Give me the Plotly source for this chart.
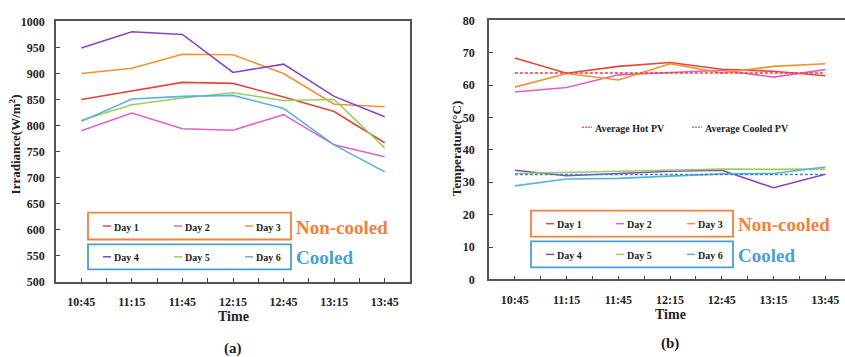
import plotly.graph_objects as go

W, H = 845, 357
times = ["10:45", "11:15", "11:45", "12:15", "12:45", "13:15", "13:45"]
day_names = ["Day 1", "Day 2", "Day 3", "Day 4", "Day 5", "Day 6"]

irr_day1 = [850, 866, 883, 881, 855, 827, 767]
irr_day2 = [790, 824, 794, 791, 821, 763, 740]
irr_day3 = [900, 910, 937, 936, 900, 841, 836]
irr_day4 = [949, 980, 975, 902, 918, 856, 817]
irr_day5 = [810, 840, 853, 863, 848, 850, 757]
irr_day6 = [808, 851, 856, 858, 833, 763, 711]

tmp_day1 = [68.4, 63.7, 65.8, 67.0, 64.9, 64.3, 62.9]
tmp_day2 = [57.9, 59.3, 63.2, 63.9, 64.6, 62.5, 64.8]
tmp_day3 = [59.4, 63.6, 61.6, 66.6, 63.8, 65.8, 66.6]
tmp_day4 = [33.7, 32.0, 32.7, 33.4, 33.7, 28.3, 32.5]
tmp_day5 = [32.7, 33.0, 33.5, 33.7, 34.1, 34.0, 34.1]
tmp_day6 = [28.9, 31.0, 31.2, 31.9, 32.6, 32.7, 34.7]
avg_hot = [63.8] * 7
avg_cooled = [32.4] * 7

colors = ["#e0463c", "#e062c6", "#f5902f", "#8a45c2", "#98d05a", "#56b2e0"]
ORANGE = "#f4803a"
BLUE = "#4aa0d6"
FONT = "Liberation Serif, Times New Roman, serif"

xs = list(range(len(times)))

def px(x):
    return x / W

def py(y):
    return 1 - y / H

fig = go.Figure()
irr = [irr_day1, irr_day2, irr_day3, irr_day4, irr_day5, irr_day6]
tmp = [tmp_day1, tmp_day2, tmp_day3, tmp_day4, tmp_day5, tmp_day6]
for i, (name, vals) in enumerate(zip(day_names, irr)):
    fig.add_trace(go.Scatter(x=xs, y=vals, mode="lines", name=name,
                             line=dict(color=colors[i], width=1.6),
                             xaxis="x", yaxis="y", showlegend=False))
for i, (name, vals) in enumerate(zip(day_names, tmp)):
    fig.add_trace(go.Scatter(x=xs, y=vals, mode="lines", name=name,
                             line=dict(color=colors[i], width=1.6),
                             xaxis="x2", yaxis="y2", showlegend=False))
fig.add_trace(go.Scatter(x=xs, y=avg_hot, mode="lines", name="Average Hot PV",
                         line=dict(color="#f03a3a", width=1.5, dash="3px,2px"),
                         xaxis="x2", yaxis="y2", showlegend=False))
fig.add_trace(go.Scatter(x=xs, y=avg_cooled, mode="lines", name="Average Cooled PV",
                         line=dict(color="#3f86c6", width=1.5, dash="3px,2px"),
                         xaxis="x2", yaxis="y2", showlegend=False))

tickfont = dict(family=FONT, size=12, color="#222", weight="bold")
minor = dict(tickvals=[i + 0.5 for i in range(6)], ticks="inside", ticklen=4,
             tickcolor="#444", tickwidth=1.2)
axcommon = dict(showgrid=False, zeroline=False, showline=True, linecolor="#555",
                linewidth=1.6, ticks="inside", ticklen=4, tickcolor="#444",
                tickwidth=1.2, tickfont=tickfont)

fig.update_layout(
    width=W, height=H, margin=dict(l=0, r=0, t=0, b=0),
    paper_bgcolor="white", plot_bgcolor="white",
    font=dict(family=FONT),
    xaxis=dict(domain=[px(56), px(410)], range=[-0.5, 6.5], tickvals=xs,
               ticktext=times, mirror=True, anchor="y", minor=minor,
               ticklabelstandoff=8, **axcommon),
    yaxis=dict(domain=[py(286), py(15)], range=[500, 1000], dtick=50,
               mirror=True, anchor="x", ticklabelstandoff=7, **axcommon),
    xaxis2=dict(domain=[px(489), 1.0], range=[-0.5, 6.38], tickvals=xs,
                ticktext=times, mirror=True, anchor="y2", minor=minor,
                ticklabelstandoff=8, **axcommon),
    yaxis2=dict(domain=[py(283.5), py(14)], range=[0, 80], dtick=10,
                mirror=False, anchor="x2", ticklabelstandoff=10, **axcommon),
)

ann = []
shapes = []

def text(x, y, s, size, color="#222", xanchor="center", angle=0):
    ann.append(dict(x=px(x), y=py(y), xref="paper", yref="paper", text=s,
                    showarrow=False, xanchor=xanchor, yanchor="middle",
                    textangle=angle,
                    font=dict(family=FONT, size=size, color=color, weight="bold")))

# axis titles and captions
text(15, 143, "Irradiance(W/m<sup>2</sup>)", 13, angle=-90)
text(456, 148, "Temperature(°C)", 13, angle=-90)
text(233, 322, "Time", 14)
text(670, 320, "Time", 14)
text(233, 355, "(a)", 15)
text(670, 350, "(b)", 15)

def legend_block(x0, x1, ytop1, ybot1, ytop2, ybot2, entry_x, label_x):
    shapes.append(dict(type="rect", xref="paper", yref="paper",
                       x0=px(x0), x1=px(x1), y0=py(ybot1), y1=py(ytop1),
                       line=dict(color=ORANGE, width=1.8)))
    shapes.append(dict(type="rect", xref="paper", yref="paper",
                       x0=px(x0), x1=px(x1), y0=py(ybot2), y1=py(ytop2),
                       line=dict(color=BLUE, width=1.8)))
    yc = [(ytop1 + ybot1) / 2, (ytop2 + ybot2) / 2]
    for i, name in enumerate(day_names):
        row, col = divmod(i, 3)
        ex = entry_x[col]
        shapes.append(dict(type="line", xref="paper", yref="paper",
                           x0=px(ex), x1=px(ex + 8), y0=py(yc[row]), y1=py(yc[row]),
                           line=dict(color=colors[i], width=1.5)))
        text(ex + 9, yc[row] + 1, name, 10, xanchor="left")
    text(label_x, yc[0] + 1, "Non-cooled", 19, color=ORANGE, xanchor="left")
    text(label_x, yc[1] + 1, "Cooled", 19, color=BLUE, xanchor="left")

legend_block(88, 291, 214, 242, 247, 273, [103, 174, 245], 294)
legend_block(531, 733, 212, 239, 244, 271, [546, 616, 687], 736)

# average legend
for (x0, name, col) in [(582, "Average Hot PV", "#f03a3a"),
                        (692, "Average Cooled PV", "#3f86c6")]:
    shapes.append(dict(type="line", xref="paper", yref="paper",
                       x0=px(x0), x1=px(x0 + 10), y0=py(125), y1=py(125),
                       line=dict(color=col, width=1.4, dash="2px,1px")))
    text(x0 + 11, 126, name, 10, xanchor="left")

fig.update_layout(annotations=ann, shapes=shapes)
fig.write_html("out.html")
